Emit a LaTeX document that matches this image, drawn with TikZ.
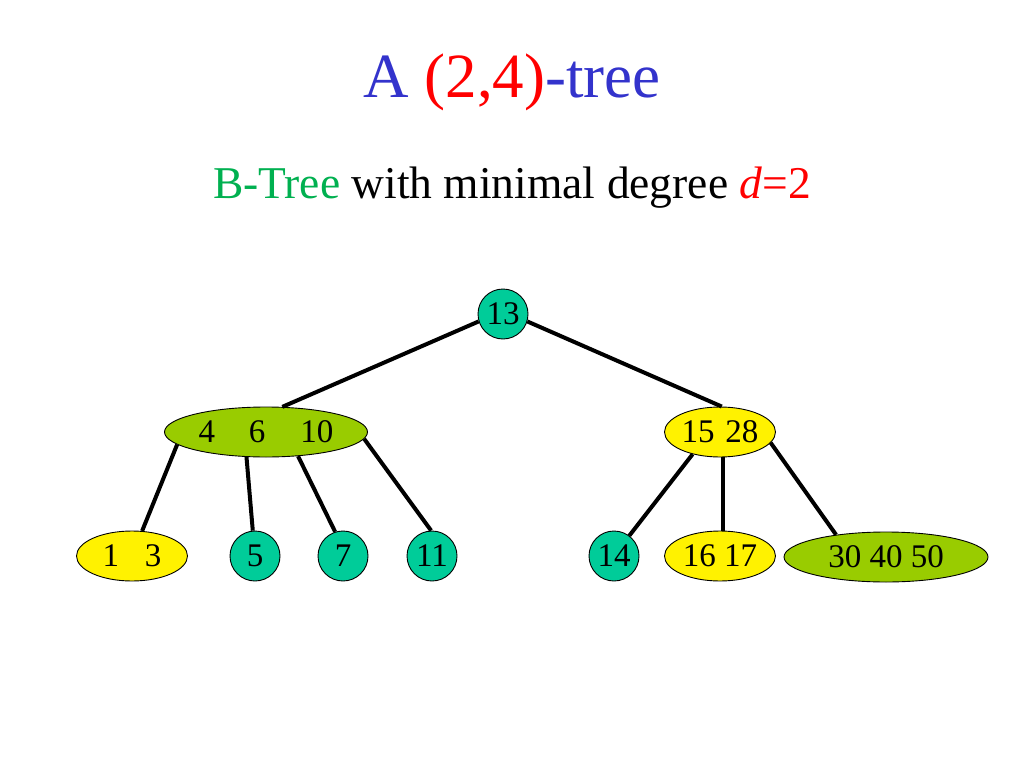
\documentclass[tikz,border=0pt]{standalone}
\usepackage{fontspec}
\setmainfont{Liberation Serif}
\usetikzlibrary{shapes.geometric}
\definecolor{teal}{RGB}{0,204,153}
\definecolor{olive}{RGB}{153,204,0}
\definecolor{ttlblue}{RGB}{51,51,204}
\definecolor{bgreen}{RGB}{0,176,80}
\tikzset{
  leafc/.style={circle,draw=black,line width=0.9bp,fill=teal,minimum size=50bp,inner sep=0pt,font=\fontsize{33bp}{33bp}\selectfont},
  ell/.style={ellipse,draw=black,line width=0.9bp,minimum height=50bp,inner sep=0pt,font=\fontsize{33bp}{33bp}\selectfont},
  edge/.style={line width=4bp,black}
}
\begin{document}
\begin{tikzpicture}[x=1bp,y=-1bp]
\useasboundingbox (0,0) rectangle (1024,768);
\node (title) at (512,82) {\fontsize{63bp}{63bp}\selectfont\color{ttlblue}A \textcolor{red}{(2,4)}-tree};
\node (sub) at (512,188) {\fontsize{45.5bp}{45.5bp}\selectfont\textcolor{bgreen}{B-Tree} with minimal degree \textcolor{red}{\textit{d}=2}};

\node[leafc] (n13) at (503,314) {13};
\node[ell,fill=olive,minimum width=203bp] (n4610) at (266,432) {4\hspace{34bp}6\hspace{35bp}10};
\node[ell,fill=yellow,minimum width=111bp] (n1528) at (720,432) {15\hspace{11bp}28};
\node[ell,fill=yellow,minimum width=111bp] (n13b) at (132,556) {1\hspace{26bp}3};
\node[leafc] (n5) at (255,556) {5};
\node[leafc] (n7) at (343,556) {7};
\node[leafc] (n11) at (432,556) {11};
\node[leafc] (n14) at (614,556) {14};
\node[ell,fill=yellow,minimum width=111bp] (n1617) at (720,556) {16 17};
\node[ell,fill=olive,minimum width=204bp] (n304050) at (886,557) {30 40 50};

\draw[edge] (n13.197) -- (n4610.57);
\draw[edge] (n13.343) -- (n1528.86);
\draw[edge] (n4610.188) -- (n13b.68);
\draw[edge] (n4610.232) -- (n5.95);
\draw[edge] (n4610.323) -- (n7.108);
\draw[edge] (n4610.356) -- (n11.92);
\draw[edge] (n1528.219) -- (n14.53);
\draw[edge] (n1528.276) -- (n1617.84);
\draw[edge] (n1528.348) -- (n304050.156);
\end{tikzpicture}
\end{document}
